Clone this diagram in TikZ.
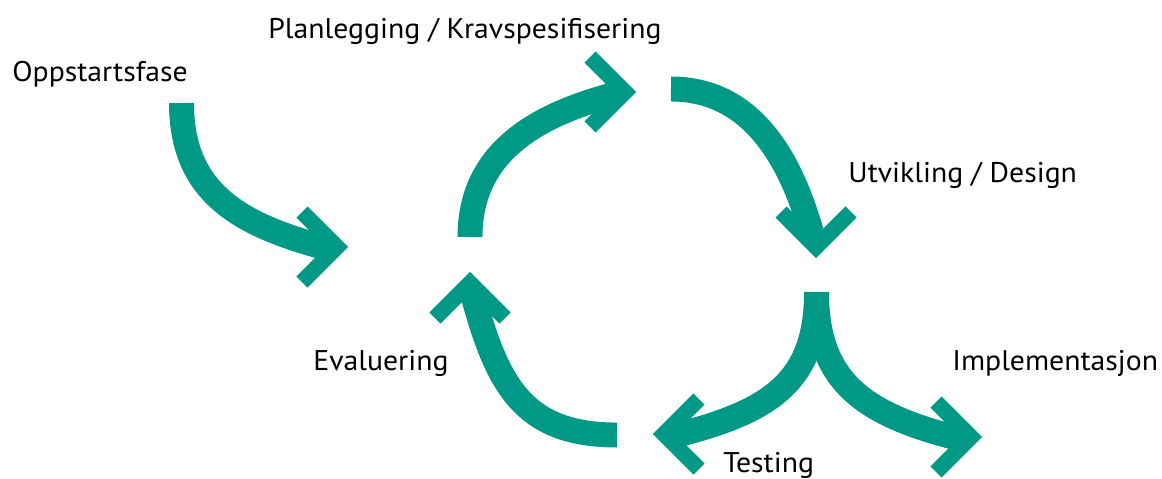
\documentclass[tikz,border=0pt]{standalone}
\usepackage{fontspec}
\setmainfont{PT Sans}[FakeStretch=1.045]

\definecolor{syklus}{RGB}{0,153,133}

\tikzset{
  shaft/.style={draw=syklus, line width=14.2pt, line cap=butt},
  barb/.style={draw=syklus, line width=9pt, line cap=butt, line join=miter},
  fase/.style={anchor=base west, inner sep=0pt, font=\fontsize{16.2}{19}\selectfont},
}

\begin{document}
\begin{tikzpicture}[x=0.02cm, y=-0.02cm]
	\useasboundingbox (0,0) rectangle (1162,478);

	% arrow tips (vertex of each chevron)
	\coordinate (inn) at (337,247);
	\coordinate (plan) at (625,92);
	\coordinate (utv) at (816,247);
	\coordinate (eval) at (470,283);
	\coordinate (test) at (664,434);
	\coordinate (impl) at (971,437);

	% shafts
	\draw[shaft] (181.5,103) .. controls (181.5,195) and (243,226) .. (330,249);
	\draw[shaft] (470,237) .. controls (470,150) and (540,114) .. (616,94);
	\draw[shaft] (671,89) .. controls (753,89) and (792,161) .. (813,238);
	\draw[shaft] (617,435) .. controls (522,435) and (497,384) .. (472,292);
	\draw[shaft] (816.5,292) .. controls (816.5,382) and (770,412) .. (673,436);
	\draw[shaft] (816.5,292) .. controls (816.5,382) and (864,415) .. (961,439);

	% chevrons
	\draw[barb] (inn) ++(-35,-35) -- (inn) -- ++(-35,35);
	\draw[barb] (plan) ++(-35,-35) -- (plan) -- ++(-35,35);
	\draw[barb] (utv) ++(-35,-35) -- (utv) -- ++(35,-35);
	\draw[barb] (eval) ++(-35,35) -- (eval) -- ++(35,35);
	\draw[barb] (test) ++(35,-35) -- (test) -- ++(35,35);
	\draw[barb] (impl) ++(-35,-35) -- (impl) -- ++(-35,35);

	% labels
	\node[fase] (oppstart) at (12,81) {Oppstartsfase};
	\node[fase] (planlegging) at (268,38) {Planlegging / Kravspesifisering};
	\node[fase] (utvikling) at (848,182) {Utvikling / Design};
	\node[fase] (evaluering) at (313,370) {Evaluering};
	\node[fase] (implementasjon) at (952,370) {Implementasjon};
	\node[fase] (testing) at (723,472) {Testing};
\end{tikzpicture}
\end{document}
